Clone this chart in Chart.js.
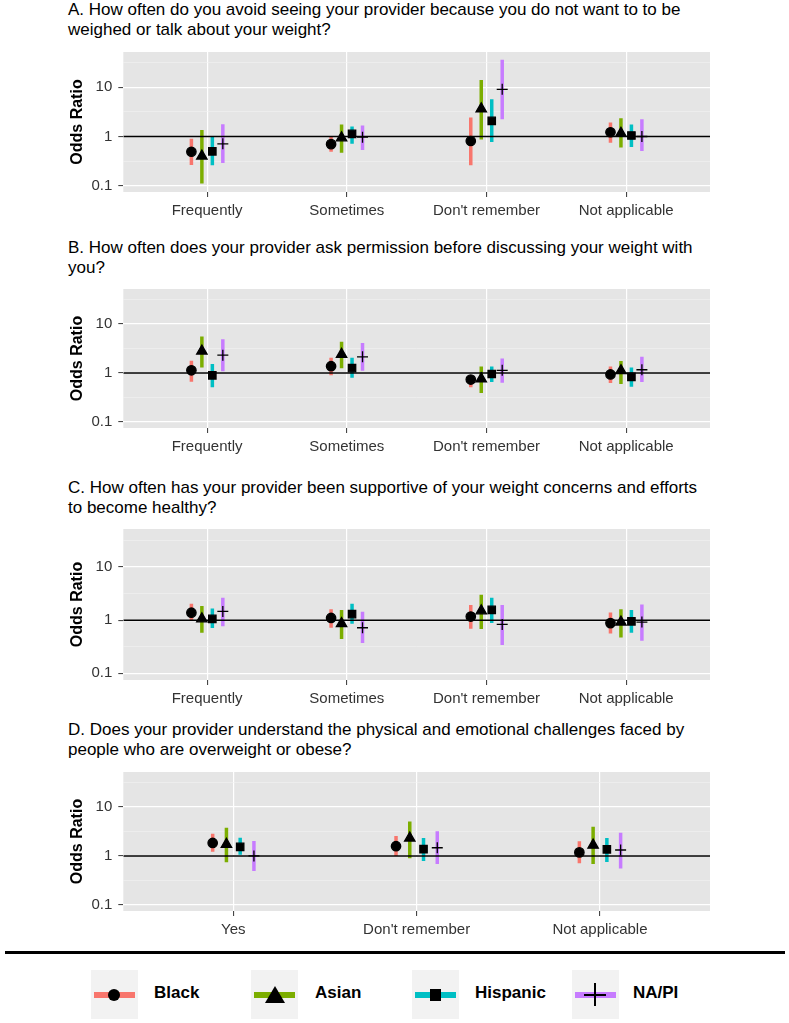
<!DOCTYPE html>
<html>
<head>
<meta charset="utf-8">
<script src="https://cdn.jsdelivr.net/npm/chart.js@4.4.1/dist/chart.umd.min.js"></script>
<style>
body{margin:0;width:789px;height:1023px;background:#fff;position:relative;overflow:hidden;font-family:"Liberation Sans",Arial,sans-serif}
.ttl{position:absolute;left:68px;font-size:17px;line-height:20px;color:#000;white-space:nowrap}
.pan{position:absolute;left:0;width:789px}
.sep{position:absolute;left:5px;width:780px;top:951px;height:3px;background:#000}
.key{position:absolute;top:970px;width:47px;height:49px;background:#f2f2f2}
.key .bar{position:absolute;left:3px;right:3px;top:22px;height:6px}
.lab{position:absolute;top:983px;font-size:17px;font-weight:bold;line-height:20px;color:#000}
.mk{position:absolute;background:#000}
</style>
</head>
<body>
<div class="ttl" style="top:0px">A. How often do you avoid seeing your provider because you do not want to to be<br>weighed or talk about your weight?</div>
<div class="pan" style="top:37px;height:185px"><canvas id="chartA"></canvas></div>
<div class="ttl" style="top:238px">B. How often does your provider ask permission before discussing your weight with<br>you?</div>
<div class="pan" style="top:274px;height:184px"><canvas id="chartB"></canvas></div>
<div class="ttl" style="top:478px">C. How often has your provider been supportive of your weight concerns and efforts<br>to become healthy?</div>
<div class="pan" style="top:514px;height:196px"><canvas id="chartC"></canvas></div>
<div class="ttl" style="top:720px">D. Does your provider understand the physical and emotional challenges faced by<br>people who are overweight or obese?</div>
<div class="pan" style="top:757px;height:184px"><canvas id="chartD"></canvas></div>

<div class="sep"></div>
<div class="key" style="left:91px"><div class="bar" style="background:#F8766D"></div><div class="mk" style="left:17px;top:19px;width:12px;height:12px;border-radius:50%"></div></div>
<div class="lab" style="left:154px">Black</div>
<div class="key" style="left:251px"><div class="bar" style="background:#7CAE00"></div><div style="position:absolute;left:14px;top:16px;width:0;height:0;border-left:10px solid transparent;border-right:10px solid transparent;border-bottom:17px solid #000"></div></div>
<div class="lab" style="left:315px">Asian</div>
<div class="key" style="left:412px"><div class="bar" style="background:#00BFC4"></div><div class="mk" style="left:18px;top:19px;width:11px;height:12px"></div></div>
<div class="lab" style="left:475px">Hispanic</div>
<div class="key" style="left:572px"><div class="bar" style="background:#C77CFF"></div><div class="mk" style="left:22px;top:13px;width:1.5px;height:23px"></div><div class="mk" style="left:12px;top:24px;width:22px;height:1.5px"></div></div>
<div class="lab" style="left:633px">NA/PI</div>

<script>
var groups = ["Black", "Asian", "Hispanic", "NA/PI"]
var colors = ["#F8766D", "#7CAE00", "#00BFC4", "#C77CFF"]
var catsABC = ["Frequently", "Sometimes", "Don't remember", "Not applicable"]
var catsD = ["Yes", "Don't remember", "Not applicable"]
var yMajor = [0.1, 1, 10]
var yMinor = [0.316, 3.16, 31.6]

// odds ratio and 95% interval, one row per group (Black, Asian, Hispanic, NA/PI)
var orA = [[0.49, 0.70, 0.81, 1.22], [0.40, 0.94, 3.66, 1.16], [0.50, 1.13, 2.08, 1.05], [0.71, 0.97, 9.1, 1.0]]
var loA = [[0.265, 0.49, 0.26, 0.75], [0.111, 0.47, 0.87, 0.60], [0.26, 0.71, 0.77, 0.61], [0.29, 0.53, 2.24, 0.51]]
var hiA = [[0.90, 1.0, 2.42, 1.93], [1.36, 1.76, 14.0, 2.35], [1.0, 1.60, 5.69, 1.76], [1.78, 1.68, 36, 2.24]]

var orB = [[1.13, 1.37, 0.73, 0.93], [2.80, 2.40, 0.76, 1.11], [0.89, 1.25, 0.95, 0.83], [2.30, 2.13, 1.13, 1.16]]
var loB = [[0.66, 0.90, 0.51, 0.62], [1.29, 1.25, 0.39, 0.59], [0.51, 0.80, 0.65, 0.52], [1.08, 1.11, 0.63, 0.65]]
var hiB = [[1.78, 2.04, 0.90, 1.35], [5.54, 4.35, 1.35, 1.75], [1.53, 2.04, 1.35, 1.29], [4.9, 4.1, 1.98, 2.13]]

var orC = [[1.38, 1.10, 1.17, 0.88], [1.06, 0.86, 1.50, 0.92], [1.06, 1.30, 1.56, 0.95], [1.46, 0.72, 0.83, 0.92]]
var loC = [[1.01, 0.72, 0.69, 0.56], [0.58, 0.44, 0.68, 0.47], [0.71, 0.86, 0.88, 0.58], [0.77, 0.37, 0.34, 0.41]]
var hiC = [[2.04, 1.61, 1.93, 1.40], [1.85, 1.56, 3.02, 1.61], [1.65, 2.04, 2.63, 1.56], [2.63, 1.44, 1.93, 1.98]]

var orD = [[1.84, 1.58, 1.18], [1.73, 2.32, 1.66], [1.53, 1.38, 1.36], [1.0, 1.47, 1.32]]
var loD = [[1.22, 1.0, 0.71], [0.74, 0.90, 0.68], [1.05, 0.79, 0.75], [0.49, 0.68, 0.55]]
var hiD = [[2.83, 2.54, 1.99], [3.78, 5.06, 3.96], [2.36, 2.32, 2.32], [2.02, 3.2, 2.96]]

var dodge = [-0.1125, -0.0375, 0.0375, 0.1125]
var shapes = ["circle", "triangle", "rect", "cross"]
var sizes = [4.7, 6, 5.2, 5.5]

var greyBg = {
	id: "greyBg",
	beforeDraw: function(chart){
		var a = chart.chartArea
		chart.ctx.save()
		chart.ctx.fillStyle = "#E5E5E5"
		chart.ctx.fillRect(a.left, a.top, a.right - a.left, a.bottom - a.top)
		chart.ctx.restore()
	}
}

function makePanel(id, cats, or, lo, hi){
	var xMin = 0.4
	var xMax = cats.length + 0.6
	var datasets = []

	for(var g = 0; g < groups.length; g++){
		var bars = []
		var pts = []
		for(var i = 0; i < cats.length; i++){
			var x = i + 1 + dodge[g]
			bars.push({x: x, y: lo[g][i]})
			bars.push({x: x, y: hi[g][i]})
			bars.push({x: x, y: null})
			pts.push({x: x, y: or[g][i]})
		}
		datasets.push({
			type: "line", label: groups[g] + " CI", data: bars,
			borderColor: colors[g], borderWidth: 3.5, borderCapStyle: "butt",
			pointRadius: 0, spanGaps: false, order: 3
		})
		datasets.push({
			type: "line", label: groups[g], data: pts, showLine: false,
			pointStyle: shapes[g], pointRadius: sizes[g],
			backgroundColor: "#000", borderColor: "#000", borderWidth: 1.3, order: 1
		})
	}
	datasets.push({
		type: "line", label: "ref", data: [{x: xMin, y: 1}, {x: xMax, y: 1}],
		borderColor: "#000", borderWidth: 1.5, pointRadius: 0, order: 2
	})

	new Chart(document.getElementById(id), {
		type: "line",
		data: {datasets: datasets},
		options: {
			responsive: true,
			maintainAspectRatio: false,
			animation: false,
			layout: {padding: {top: 10, right: 79, left: 0, bottom: 0}},
			plugins: {legend: {display: false}, tooltip: {enabled: false}},
			scales: {
				x: {
					type: "linear", min: xMin, max: xMax,
					afterBuildTicks: function(s){ s.ticks = cats.map(function(c, i){ return {value: i + 1} }) },
					afterFit: function(s){ s.height = 30 },
					ticks: {
						autoSkip: false, maxRotation: 0, padding: 5, color: "#333",
						font: {family: "Liberation Sans", size: 15},
						callback: function(v){ return cats[Math.round(v) - 1] }
					},
					grid: {color: "#fff", lineWidth: 1.2, tickColor: "#333", tickLength: 5, tickWidth: 1},
					border: {display: false}
				},
				y: {
					type: "logarithmic", min: 0.0747, max: 52,
					afterBuildTicks: function(s){
						s.ticks = yMajor.concat(yMinor).sort(function(a, b){ return a - b }).map(function(v){ return {value: v} })
					},
					afterFit: function(s){ s.width = 123.3 },
					ticks: {
						autoSkip: false, padding: 6, color: "#333",
						font: {family: "Liberation Sans", size: 15},
						callback: function(v){ return yMajor.indexOf(v) >= 0 ? String(v) : "" }
					},
					grid: {
						color: function(c){ return c.tick && yMajor.indexOf(c.tick.value) >= 0 ? "#fff" : "#F2F2F2" },
						lineWidth: function(c){ return c.tick && yMajor.indexOf(c.tick.value) >= 0 ? 1.2 : 0.6 },
						tickColor: function(c){ return c.tick && yMajor.indexOf(c.tick.value) >= 0 ? "#333" : "rgba(0,0,0,0)" },
						tickLength: 5, tickWidth: 1
					},
					border: {display: false},
					title: {
						display: true, text: "Odds Ratio", color: "#000",
						font: {family: "Liberation Sans", size: 16, weight: "bold"},
						padding: {top: 68, bottom: 0}
					}
				}
			}
		},
		plugins: [greyBg]
	})
}

makePanel("chartA", catsABC, orA, loA, hiA)
makePanel("chartB", catsABC, orB, loB, hiB)
makePanel("chartC", catsABC, orC, loC, hiC)
makePanel("chartD", catsD, orD, loD, hiD)
</script>
</body>
</html>
